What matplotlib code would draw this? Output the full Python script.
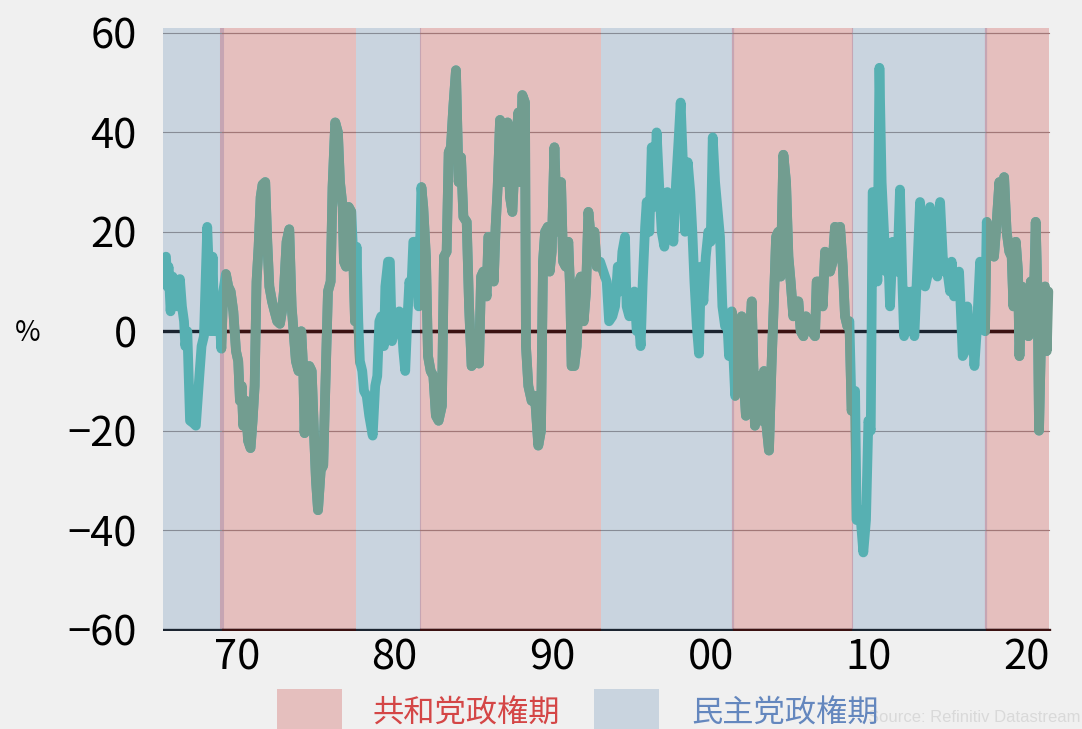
import matplotlib
matplotlib.use("Agg")
import matplotlib.pyplot as plt
from matplotlib.patches import Rectangle

# ---------------- data ----------------
years = [
    1965.53, 1965.61, 1965.69, 1965.82, 1965.95, 1966.10, 1966.24, 1966.41, 1966.54, 1966.67,
    1966.75, 1966.88, 1967.05, 1967.26, 1967.42, 1967.64, 1967.78, 1967.93, 1968.14, 1968.27,
    1968.35, 1968.48, 1968.59, 1968.73, 1968.90, 1969.03, 1969.15, 1969.32, 1969.47, 1969.62,
    1969.79, 1969.96, 1970.10, 1970.21, 1970.32, 1970.42, 1970.59, 1970.72, 1970.88, 1971.01,
    1971.14, 1971.26, 1971.39, 1971.52, 1971.64, 1971.81, 1971.94, 1972.07, 1972.24, 1972.40,
    1972.57, 1972.74, 1972.87, 1972.99, 1973.16, 1973.33, 1973.48, 1973.63, 1973.75, 1973.92,
    1974.09, 1974.22, 1974.30, 1974.43, 1974.60, 1974.75, 1974.89, 1975.02, 1975.15, 1975.32,
    1975.48, 1975.61, 1975.78, 1975.95, 1976.07, 1976.24, 1976.41, 1976.54, 1976.71, 1976.79,
    1976.92, 1977.09, 1977.26, 1977.38, 1977.49, 1977.59, 1977.70, 1977.80, 1977.95, 1978.06,
    1978.23, 1978.39, 1978.61, 1978.77, 1978.90, 1979.03, 1979.15, 1979.32, 1979.41, 1979.58,
    1979.70, 1979.83, 1979.91, 1980.13, 1980.29, 1980.42, 1980.55, 1980.67, 1980.80, 1980.93,
    1981.05, 1981.18, 1981.35, 1981.52, 1981.69, 1981.81, 1981.98, 1982.11, 1982.28, 1982.45,
    1982.61, 1982.78, 1982.99, 1983.12, 1983.29, 1983.42, 1983.56, 1983.71, 1983.88, 1984.05,
    1984.20, 1984.35, 1984.56, 1984.71, 1984.87, 1985.09, 1985.34, 1985.47, 1985.61, 1985.82,
    1985.93, 1986.14, 1986.27, 1986.39, 1986.52, 1986.67, 1986.82, 1986.94, 1987.15, 1987.30,
    1987.45, 1987.62, 1987.83, 1987.96, 1988.08, 1988.25, 1988.31, 1988.46, 1988.67, 1988.88,
    1989.09, 1989.26, 1989.39, 1989.52, 1989.69, 1989.81, 1989.94, 1990.11, 1990.25, 1990.40,
    1990.53, 1990.66, 1990.82, 1990.99, 1991.12, 1991.20, 1991.37, 1991.52, 1991.67, 1991.79,
    1991.96, 1992.11, 1992.26, 1992.47, 1992.64, 1992.79, 1993.00, 1993.21, 1993.42, 1993.57,
    1993.78, 1993.95, 1994.12, 1994.26, 1994.41, 1994.58, 1994.68, 1994.85, 1995.00, 1995.17,
    1995.32, 1995.42, 1995.57, 1995.70, 1995.85, 1995.95, 1996.12, 1996.27, 1996.41, 1996.58,
    1996.73, 1996.90, 1997.07, 1997.26, 1997.43, 1997.64, 1997.81, 1997.96, 1998.10, 1998.23,
    1998.38, 1998.55, 1998.71, 1998.84, 1998.97, 1999.12, 1999.26, 1999.39, 1999.54, 1999.69,
    1999.85, 2000.00, 2000.13, 2000.28, 2000.42, 2000.59, 2000.74, 2000.91, 2001.05, 2001.16,
    2001.33, 2001.45, 2001.55, 2001.75, 2001.96, 2002.10, 2002.23, 2002.45, 2002.60, 2002.80,
    2003.08, 2003.23, 2003.38, 2003.50, 2003.69, 2003.85, 2004.01, 2004.14, 2004.28, 2004.43,
    2004.60, 2004.77, 2004.92, 2005.06, 2005.23, 2005.40, 2005.55, 2005.70, 2005.87, 2006.03,
    2006.18, 2006.39, 2006.60, 2006.71, 2006.92, 2007.09, 2007.24, 2007.38, 2007.55, 2007.72,
    2007.87, 2008.02, 2008.19, 2008.36, 2008.50, 2008.65, 2008.78, 2008.92, 2009.14, 2009.24,
    2009.45, 2009.66, 2009.83, 2009.98, 2010.13, 2010.25, 2010.40, 2010.55, 2010.68, 2010.82,
    2010.97, 2011.10, 2011.25, 2011.35, 2011.52, 2011.67, 2011.81, 2011.98, 2012.15, 2012.24,
    2012.41, 2012.57, 2012.72, 2012.89, 2013.04, 2013.25, 2013.42, 2013.57, 2013.71, 2013.88,
    2014.05, 2014.20, 2014.35, 2014.52, 2014.69, 2014.83, 2014.98, 2015.15, 2015.25, 2015.40,
    2015.57, 2015.72, 2015.82, 2015.95, 2016.10, 2016.24, 2016.41, 2016.58, 2016.69, 2016.84,
    2017.05, 2017.20, 2017.36, 2017.47, 2017.64, 2017.79, 2017.93, 2018.10, 2018.27, 2018.42,
    2018.57, 2018.73, 2018.90, 2019.05, 2019.16, 2019.31, 2019.45, 2019.54, 2019.69, 2019.83,
    2019.96, 2020.11, 2020.26, 2020.42, 2020.57, 2020.70, 2020.78, 2020.89, 2021.01, 2021.16,
    2021.27, 2021.37,
]
values = [
    15, 9, 13, 4, 11, 6, 5, 10.5, 5, 2,
    -3, 0, -18, -18.5, -19, -9, -3, -1, 21, 10,
    0, 15, 0, 4, 4, -3.5, 8, 11.5, 9, 8,
    4, -4, -6, -14, -11, -19, -14, -22, -23.5, -18,
    -11, 10, 17, 27, 29.5, 30, 18, 9, 6, 4,
    2, 1.5, 4, 8, 18, 20.5, 5, -1, -6, -8,
    0, -8, -20.5, -8, -7, -8, -20, -30, -36, -28,
    -27, -12, 8, 10, 29, 42, 40, 30, 25, 14,
    13, 25, 24, 15, 2, 17, 2, -6, -8, -12,
    -13, -17, -21, -11, -9, 2, 3, -3, 9, 14,
    14, -2, -1, 0, 4, 3, -4, -8, 2, 10,
    8, 18, 18, 5, 29, 25, 15, -5, -8, -9,
    -17, -18, -15, 15, 16, 36, 37, 45, 52.5, 30,
    35, 23, 22, 5, -7, -6, -6.5, 11, 12, 7,
    19, 18, 10, 21, 29, 42.5, 41, 30, 42, 27,
    24, 36, 44, 30, 47.5, 46, -3, -11, -14, -13,
    -23, -20, 14, 20, 21, 12, 16, 37, 24, 20,
    30, 14, 13, 18, 7, -7, -7, -3, 10, 11,
    2, 8, 24, 17, 20, 13, 14, 12, 10, 2,
    3, 5, 13, 8, 16, 19, 5, 3, 7, 8,
    0, 3, -3, 10, 21, 26, 20, 37, 25, 40,
    30, 20, 17, 28, 26, 18, 30, 38, 46, 35,
    20, 34, 28, 20, 10, 1, -4.5, 13, 6, 15,
    20, 18, 39, 30, 25, 19, 5, 1, 2, -5,
    4, -6, -13, -8, 3, -10, -17, -2, 6, -19,
    -9, -18, -8, -18, -24, -7, 7, 19, 20, 11,
    35.5, 30, 15, 10, 3, 6, 6, 0, -1, 3,
    2, 0, -1, 10, 10, 5, 16, 15, 12, 14,
    21, 18, 21, 13, 3, 1, 2, -16, -12, -38,
    -36, -44.5, -38, -18, -20, 28, 28, 10, 53, 30,
    20, 12, 14, 5, 18, 12, 12, 28.5, 8, -1,
    8, 7, 8, -1, 10, 26, 14, 9, 11, 25,
    15, 12, 11, 26, 15, 12, 12, 8, 14, 7,
    8, 12, 5, -5, -4, 5, -3, 0, -7, 0,
    14, 6, 0, 22, 16, 18, 15, 22, 30, 25,
    31, 20, 16, 15, 5, 18, 12, -5, 9, 4,
    3, -1, 10, 2, 22, 5, -20, -4, 8, 9,
    -4, 8,
]

republican_terms = [(1969.07, 1977.53), (1981.60, 1993.06), (2001.43, 2008.96), (2017.41, 2021.80)]
term_edges = [1969.07, 1981.60, 2001.43, 2008.96, 2017.41]
edge_widths = [2.9, 0.8, 1.6, 0.8, 1.6]

grid_levels = [60, 40, 20, -20, -40]
ytick_values = [60, 40, 20, 0, -20, -40, -60]
ytick_labels = ["60", "40", "20", "0", "\u221220", "\u221240", "\u221260"]
xtick_values = [1970, 1980, 1990, 2000, 2010, 2020]
xtick_labels = ["70", "80", "90", "00", "10", "20"]

legend_labels = ["共和党政権期", "民主党政権期"]
source_text = "Source: Refinitiv Datastream"

# ---------------- style ----------------
plt.rcParams["font.family"] = ["Noto Sans CJK JP", "DejaVu Sans"]

BG = "#f0f0f0"
BLUE_BG = "#c9d4df"
RED_BG = "#e5bfbe"
LINE_BLUE = "#57b0b2"
LINE_RED = "#729d90"
GRID_BLUE = "#878c96"
GRID_RED = "#a27777"
ZERO_BLUE = "#1b2430"
ZERO_RED = "#3b1111"

W, H = 1082, 729
fig = plt.figure(figsize=(W / 100, H / 100), dpi=100, facecolor=BG)
ax = fig.add_axes([163 / W, 1 - 631 / H, (1049.3 - 163) / W, (631 - 27.5) / H])
ax.set_facecolor(BLUE_BG)
ax.set_xlim(1965.34, 2021.43)
ax.set_ylim(-60.3, 61.1)

red_patches = [ax.axvspan(a, b, color=RED_BG, lw=0, zorder=0.5) for a, b in republican_terms]


def two_tone(make, c_out, c_in):
    make(c_out)
    for p in red_patches:
        art = make(c_in)
        art.set_clip_path(p)


for lvl in grid_levels:
    two_tone(lambda c, v=lvl: ax.axhline(v, color=c, lw=0.8, zorder=1), GRID_BLUE, GRID_RED)

for xe, we in zip(term_edges, edge_widths):
    ax.axvline(xe, color="#c6a5b3", lw=we, zorder=0.8)

for lvl in (0, -60):
    two_tone(lambda c, v=lvl: ax.axhline(v, color=c, lw=2.4, zorder=2), ZERO_BLUE, ZERO_RED)

two_tone(lambda c: ax.plot(years, values, color=c, lw=7, solid_capstyle="round",
                           solid_joinstyle="round", zorder=3)[0], LINE_BLUE, LINE_RED)

for s in ax.spines.values():
    s.set_visible(False)

ax.set_xticks(xtick_values)
ax.set_xticklabels(xtick_labels)
ax.set_yticks(ytick_values)
ax.set_yticklabels(ytick_labels)
ax.tick_params(axis="both", length=0, labelsize=30, colors="black")
ax.tick_params(axis="x", pad=5)
ax.tick_params(axis="y", pad=19)

fig.text(28 / W, 1 - 333 / H, "%", fontsize=20, ha="center", va="center", color="black")

# legend
fig.add_artist(Rectangle((277 / W, 0), 65 / W, (729 - 689) / H, transform=fig.transFigure,
                         facecolor=RED_BG, edgecolor="none"))
fig.text(372 / W, 1 - 714 / H, legend_labels[0], fontsize=22.5, color="#d44646",
         ha="left", va="center")
fig.add_artist(Rectangle((594 / W, 0), 65 / W, (729 - 689) / H, transform=fig.transFigure,
                         facecolor=BLUE_BG, edgecolor="none"))
fig.text(1080 / W, 1 - 717 / H, source_text, fontsize=12, color="#d9d9d9",
         ha="right", va="center", family=["Liberation Sans", "DejaVu Sans"])
fig.text(691 / W, 1 - 714 / H, legend_labels[1], fontsize=22.5, color="#6487be",
         ha="left", va="center")

fig.savefig("out.png", dpi=100, facecolor=BG)
